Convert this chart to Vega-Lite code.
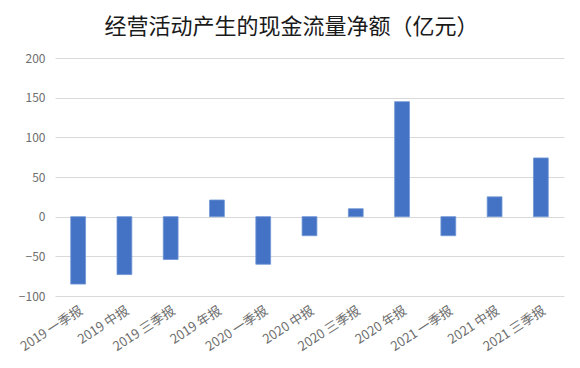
{
  "$schema": "https://vega.github.io/schema/vega-lite/v6.json",
  "width": 509,
  "height": 238,
  "autosize": "none",
  "padding": {"left": 55, "top": 58, "right": 16, "bottom": 72},
  "background": "white",
  "title": {
    "text": "经营活动产生的现金流量净额（亿元）",
    "font": "Noto Sans CJK SC",
    "fontSize": 22,
    "fontWeight": "normal",
    "color": "#1a1a1a",
    "anchor": "middle",
    "dx": -18,
    "offset": 13
  },
  "data": {
    "values": [
      {"period": "2019 一季报", "value": -85},
      {"period": "2019 中报", "value": -73},
      {"period": "2019 三季报", "value": -54},
      {"period": "2019 年报", "value": 21},
      {"period": "2020 一季报", "value": -60},
      {"period": "2020 中报", "value": -24},
      {"period": "2020 三季报", "value": 10},
      {"period": "2020 年报", "value": 145},
      {"period": "2021 一季报", "value": -24},
      {"period": "2021 中报", "value": 25},
      {"period": "2021 三季报", "value": 74}
    ]
  },
  "mark": {"type": "bar", "color": "#4472c4", "stroke": "#6f95d6", "strokeWidth": 0.8},
  "encoding": {
    "x": {
      "field": "period",
      "type": "nominal",
      "sort": null,
      "scale": {"paddingInner": 0.68, "paddingOuter": 0.34},
      "axis": {
        "title": null,
        "labelAngle": -33,
        "labelFont": "Noto Sans CJK SC",
        "labelFontSize": 13,
        "labelColor": "#6e6e6e",
        "domain": false,
        "ticks": false,
        "labelPadding": 8
      }
    },
    "y": {
      "field": "value",
      "type": "quantitative",
      "scale": {"domain": [-100, 200], "nice": false},
      "axis": {
        "title": null,
        "values": [-100, -50, 0, 50, 100, 150, 200],
        "labelFont": "Noto Sans CJK SC",
        "labelFontSize": 12,
        "labelColor": "#6e6e6e",
        "domain": false,
        "ticks": false,
        "labelPadding": 10,
        "gridColor": "#d9d9d9",
        "gridWidth": 1
      }
    }
  },
  "config": {"view": {"stroke": null}}
}
